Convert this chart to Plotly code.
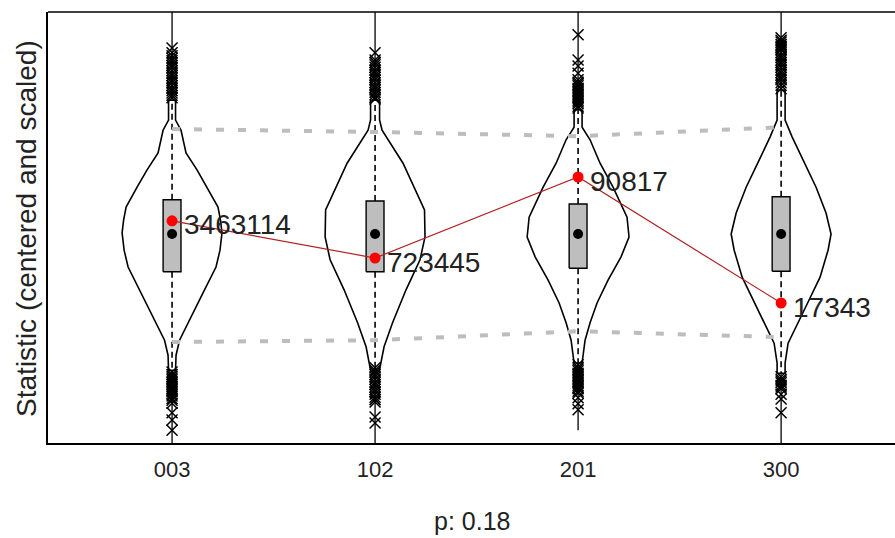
import plotly.graph_objects as go

# ---------------- data ----------------
categories = ["003", "102", "201", "300"]
point_labels = ["3463114", "723445", "90817", "17343"]
point_values = [0.22, -0.40, 0.95, -1.15]          # red points

box_q1 = [-0.63, -0.63, -0.57, -0.62]
box_q3 = [0.57, 0.55, 0.50, 0.62]
box_median = [0.0, 0.0, 0.0, 0.0]
whisker_low = [-2.27, -2.27, -2.15, -2.32]
whisker_high = [2.23, 2.23, 2.07, 2.40]
data_min = [-3.60, -3.60, -3.27, -3.60]
data_max = [3.90, 3.90, 3.90, 3.90]

upper_quantile = [1.75, 1.70, 1.63, 1.78]   # grey dotted lines
lower_quantile = [-1.80, -1.77, -1.62, -1.72]

outliers = [
    [3.10, 3.02, 2.97, 2.93, 2.89, 2.85, 2.81, 2.77, 2.72, 2.68, 2.64, 2.60, 2.56, 2.52, 2.47, 2.43, 2.39, 2.35, 2.31, 2.27,
     -2.30, -2.34, -2.37, -2.40, -2.43, -2.47, -2.50, -2.54, -2.57, -2.60, -2.63, -2.67, -2.70, -2.74, -2.77, -2.82, -2.98, -3.10, -3.27],
    [3.02, 2.90, 2.86, 2.82, 2.78, 2.73, 2.69, 2.65, 2.61, 2.57, 2.52, 2.48, 2.44, 2.40, 2.36, 2.32, 2.28, 2.25,
     -2.23, -2.27, -2.30, -2.34, -2.38, -2.42, -2.47, -2.51, -2.55, -2.59, -2.63, -2.67, -2.72, -2.76, -2.80, -3.05, -3.15],
    [3.32, 2.90, 2.80, 2.68, 2.57, 2.53, 2.50, 2.47, 2.43, 2.40, 2.37, 2.33, 2.30, 2.27, 2.23, 2.20, 2.17, 2.13, 2.10,
     -2.18, -2.22, -2.25, -2.28, -2.32, -2.35, -2.38, -2.42, -2.45, -2.48, -2.52, -2.55, -2.58, -2.62, -2.65, -2.73, -2.83, -2.93],
    [3.27, 3.23, 3.20, 3.16, 3.13, 3.10, 3.07, 3.02, 2.98, 2.94, 2.90, 2.86, 2.82, 2.78, 2.73, 2.69, 2.65, 2.61, 2.57, 2.52, 2.48, 2.42,
     -2.38, -2.42, -2.45, -2.48, -2.52, -2.55, -2.58, -2.67, -2.75, -2.98],
]

# violin density profiles (value, relative density)
violin_y = [
    [2.23, 1.90, 1.73, 1.35, 1.07, 0.78, 0.45, 0.23, 0.02, -0.27, -0.55, -0.98, -1.38, -1.77, -2.02, -2.27],
    [2.23, 1.90, 1.73, 1.18, 0.40, -0.05, -0.43, -0.93, -1.48, -1.88, -2.22, -2.27],
    [2.07, 1.78, 1.57, 1.18, 0.78, 0.28, -0.05, -0.38, -0.77, -1.15, -1.48, -1.77, -2.15],
    [2.40, 1.90, 1.62, 1.23, 0.78, 0.35, 0.00, -0.27, -0.72, -1.10, -1.48, -1.82, -2.15, -2.32],
]
violin_d = [
    [0.07, 0.07, 0.18, 0.28, 0.50, 0.70, 0.92, 0.97, 1.00, 0.96, 0.88, 0.62, 0.38, 0.15, 0.08, 0.07],
    [0.09, 0.09, 0.14, 0.56, 0.99, 1.00, 0.90, 0.62, 0.35, 0.18, 0.10, 0.09],
    [0.08, 0.08, 0.24, 0.44, 0.70, 0.98, 1.02, 0.86, 0.60, 0.38, 0.24, 0.14, 0.08],
    [0.08, 0.08, 0.22, 0.44, 0.70, 0.90, 1.00, 0.94, 0.78, 0.56, 0.34, 0.14, 0.08, 0.08],
]

# ---------------- figure ----------------
VIOLIN_W = 0.246
BOX_W = 0.044
xpos = [1, 2, 3, 4]
fig = go.Figure()

for i, c in enumerate(xpos):
    ys = violin_y[i]
    ds = violin_d[i]
    vx = [c + d * VIOLIN_W for d in ds] + [c - d * VIOLIN_W for d in reversed(ds)]
    vy = list(ys) + list(reversed(ys))
    vx.append(vx[0]); vy.append(vy[0])
    fig.add_trace(go.Scatter(x=vx, y=vy, mode="lines", fill="toself",
                             fillcolor="white", line=dict(color="black", width=1.6),
                             hoverinfo="skip"))
    # range lines outside the whiskers
    fig.add_trace(go.Scatter(x=[c, c], y=[whisker_high[i], data_max[i]], mode="lines",
                             line=dict(color="black", width=1.3), hoverinfo="skip"))
    fig.add_trace(go.Scatter(x=[c, c], y=[data_min[i], whisker_low[i]], mode="lines",
                             line=dict(color="black", width=1.3), hoverinfo="skip"))
    # dashed whiskers
    fig.add_trace(go.Scatter(x=[c, c, None, c, c],
                             y=[box_q3[i], whisker_high[i], None, box_q1[i], whisker_low[i]],
                             mode="lines", line=dict(color="black", width=1.6, dash="6px,4px"),
                             hoverinfo="skip"))
    # box
    fig.add_trace(go.Scatter(x=[c - BOX_W, c + BOX_W, c + BOX_W, c - BOX_W, c - BOX_W],
                             y=[box_q1[i], box_q1[i], box_q3[i], box_q3[i], box_q1[i]],
                             mode="lines", fill="toself", fillcolor="#bebebe",
                             line=dict(color="black", width=1.4), hoverinfo="skip"))
    # outliers
    fig.add_trace(go.Scatter(x=[c] * len(outliers[i]), y=outliers[i], mode="markers",
                             marker=dict(symbol="x-thin-open", size=11, color="black",
                                         line=dict(color="black", width=1.5)),
                             hoverinfo="skip"))

# medians
fig.add_trace(go.Scatter(x=xpos, y=box_median, mode="markers",
                         marker=dict(color="black", size=10), hoverinfo="skip"))

# grey quantile lines
for q in (upper_quantile, lower_quantile):
    fig.add_trace(go.Scatter(x=xpos, y=q, mode="lines",
                             line=dict(color="#bdbdbd", width=4, dash="8px,14px"),
                             hoverinfo="skip"))

# red line and points
fig.add_trace(go.Scatter(x=xpos, y=point_values, mode="lines+markers",
                         line=dict(color="#b22222", width=1.2),
                         marker=dict(color="#ff0000", size=11), hoverinfo="skip"))

annotations = []
for c, v, t in zip(xpos, point_values, point_labels):
    annotations.append(dict(x=c, y=v, xref="x", yref="y", text=t, showarrow=False,
                            xanchor="left", yanchor="middle", xshift=10, yshift=-4,
                            font=dict(family="Liberation Sans, Arial", size=28, color="#222222")))

annotations.append(dict(x=0.5 * (0.389 + 4.561), y=-0.181, xref="x", yref="paper",
                        text="p: 0.18", showarrow=False, xanchor="center", yanchor="middle",
                        font=dict(family="Liberation Sans, Arial", size=25, color="#222222")))
annotations.append(dict(x=-0.0248, y=0.499, xref="paper", yref="paper",
                        text="Statistic (centered and scaled)", showarrow=False,
                        textangle=-90, xanchor="center", yanchor="middle",
                        font=dict(family="Liberation Sans, Arial", size=28, color="#222222")))

fig.update_layout(
    width=895, height=538,
    margin=dict(l=48, r=0, t=12, b=95),
    paper_bgcolor="white", plot_bgcolor="white",
    showlegend=False,
    annotations=annotations,
    shapes=[dict(type="line", xref="paper", yref="paper", x0=0, x1=1, y0=1, y1=1,
                 line=dict(color="black", width=1.5))],
    xaxis=dict(range=[0.389, 4.561], tickvals=xpos, ticktext=categories,
               showgrid=False, zeroline=False, showline=True, linecolor="black", linewidth=1.5,
               ticks="outside", ticklen=6, tickcolor="rgba(0,0,0,0)",
               tickfont=dict(family="Liberation Sans Narrow, Arial Narrow, Liberation Sans", size=22, color="#222222")),
    yaxis=dict(range=[-3.483, 3.70], showgrid=False, zeroline=False, showticklabels=False,
               showline=True, linecolor="black", linewidth=1.5, ticks=""),
)

fig.write_html("out.html", config={"displayModeBar": False},
               post_script="document.body.style.margin='0';")
